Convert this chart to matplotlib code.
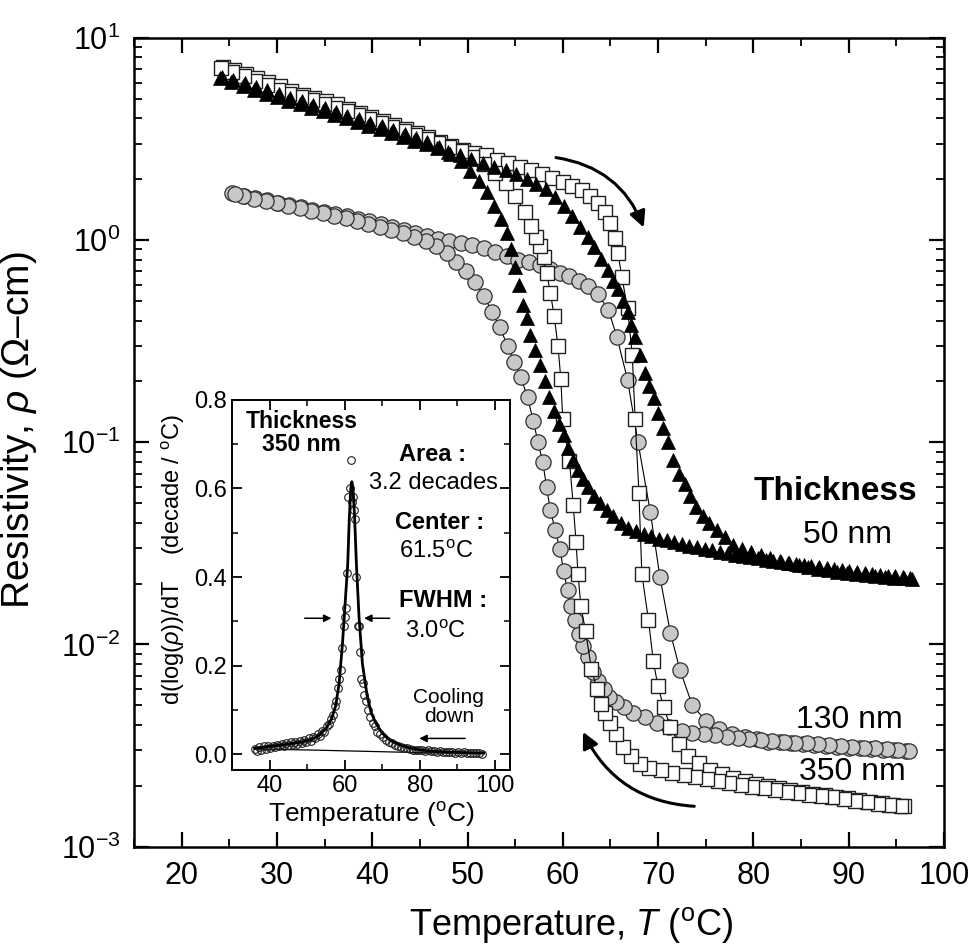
import matplotlib
matplotlib.use("Agg")
import matplotlib.pyplot as plt
from matplotlib.patches import FancyArrowPatch
from matplotlib.ticker import LogLocator, MultipleLocator

plt.rcParams['font.family'] = ['Liberation Sans', 'DejaVu Sans']
plt.rcParams['mathtext.fontset'] = 'custom'
plt.rcParams['mathtext.rm'] = 'Liberation Sans'
plt.rcParams['mathtext.it'] = 'Liberation Sans:italic'
plt.rcParams['mathtext.bf'] = 'Liberation Sans:bold'
plt.rcParams['mathtext.default'] = 'regular'

# ---- 350 nm (open squares) ----
sq_heat_T = [24.3, 25.5, 26.7, 27.9, 29.1, 30.3, 31.5, 32.7, 33.9, 35.1, 36.3, 37.5, 38.7, 39.9,
             41.1, 42.3, 43.5, 44.7, 45.9, 47.1, 48.3, 49.5, 50.7, 51.9, 53.1, 54.3, 55.5, 56.7,
             57.8, 58.9, 60.0, 61.0, 62.0, 62.9, 63.7, 64.4, 65.0, 65.5, 65.8, 66.2, 66.8, 67.3,
             67.6, 68.0, 68.3, 69.0, 69.5, 70.0, 70.6, 71.3, 72.2, 73.2, 74.3, 75.5, 76.7, 77.9,
             79.1, 80.3, 81.5, 82.7, 83.9, 85.1, 86.3, 87.5, 88.7, 89.9, 91.1, 92.3, 93.5, 94.7, 95.8]
sq_heat_rho = [7.2, 6.9, 6.6, 6.3, 6.05, 5.75, 5.45, 5.2, 5.05, 4.9, 4.7, 4.45, 4.25, 4.05,
               3.9, 3.7, 3.55, 3.38, 3.22, 3.06, 2.93, 2.8, 2.7, 2.62, 2.5, 2.4, 2.31, 2.22,
               2.12, 2.02, 1.93, 1.85, 1.76, 1.65, 1.52, 1.37, 1.21, 1.02, 0.86, 0.66, 0.46, 0.27,
               0.13, 0.056, 0.0224, 0.0132, 0.0083, 0.0062, 0.0049, 0.0039, 0.0032, 0.0028, 0.0026,
               0.0024, 0.00228, 0.00218, 0.0021, 0.00204, 0.00199, 0.00195, 0.00191, 0.00187,
               0.00183, 0.00179, 0.00176, 0.00173, 0.0017, 0.00167, 0.00164, 0.00161, 0.00159]
sq_cool_T = [95.5, 94.3, 93.1, 91.9, 90.7, 89.5, 88.3, 87.1, 85.9, 84.7, 83.5, 82.3, 81.1, 79.9,
             78.7, 77.5, 76.3, 75.1, 73.9, 72.7, 71.5, 70.3, 69.1, 68.1, 67.2, 66.3, 65.6, 65.0,
             64.4, 64.0, 63.6, 63.0, 62.4, 61.9, 61.6, 61.4, 61.1, 60.7, 60.0, 59.8, 59.5, 59.1,
             58.7, 58.3, 58.0, 57.6, 57.2, 56.7, 56.0, 55.0, 54.0, 52.9, 51.7, 50.5, 49.3, 48.1,
             46.9, 45.7, 44.5, 43.3, 42.1, 40.9, 39.7, 38.5, 37.3, 36.1, 34.9, 33.7, 32.5, 31.3,
             30.1, 28.9, 27.7, 26.5, 25.3, 24.1]
sq_cool_rho = [0.00158, 0.0016, 0.00163, 0.00166, 0.00169, 0.00172, 0.00175, 0.00178, 0.00181,
               0.00184, 0.00187, 0.0019, 0.00194, 0.00198, 0.00202, 0.00206, 0.0021, 0.00215,
               0.0022, 0.00226, 0.00232, 0.00238, 0.00245, 0.00255, 0.0028, 0.0031, 0.0036, 0.0041,
               0.0046, 0.0051, 0.006, 0.0076, 0.0116, 0.0155, 0.0224, 0.032, 0.049, 0.081, 0.13,
               0.205, 0.30, 0.42, 0.55, 0.69, 0.82, 0.93, 1.04, 1.18, 1.38, 1.66, 1.92, 2.15, 2.38,
               2.58, 2.75, 2.9, 3.03, 3.17, 3.32, 3.48, 3.64, 3.8, 3.97, 4.15, 4.33, 4.52, 4.72,
               4.93, 5.1, 5.3, 5.55, 5.85, 6.15, 6.45, 6.8, 7.1]

# ---- 50 nm (filled triangles) ----
tri_heat_T = [24.0, 25.2, 26.4, 27.6, 28.8, 30.0, 31.2, 32.4, 33.6, 34.8, 36.0, 37.2, 38.4, 39.6,
              40.8, 42.0, 43.2, 44.4, 45.6, 46.8, 48.0, 49.2, 50.4, 51.6, 52.8, 54.0, 55.1, 56.2,
              57.2, 58.2, 59.2, 60.1, 61.0, 61.8, 62.6, 63.3, 64.0, 64.7, 65.3, 65.8, 66.3, 66.8,
              67.2, 67.6, 68.1, 68.6, 69.1, 69.6, 70.0, 70.5, 71.0, 71.6, 72.2, 72.8, 73.4, 74.0,
              74.7, 75.4, 76.2, 77.0, 77.9, 78.8, 79.8, 80.8, 81.8, 82.8, 83.8, 84.8, 85.8, 86.8,
              87.8, 88.8, 89.8, 90.8, 91.8, 92.8, 93.8, 94.8, 95.8, 96.7]
tri_heat_rho = [6.3, 6.05, 5.8, 5.55, 5.3, 5.1, 4.9, 4.7, 4.5, 4.33, 4.16, 4.0, 3.84, 3.68,
                3.53, 3.38, 3.24, 3.1, 2.97, 2.85, 2.73, 2.62, 2.51, 2.41, 2.31, 2.21, 2.11, 2.0,
                1.9, 1.78, 1.64, 1.48, 1.32, 1.16, 1.03, 0.92, 0.81, 0.71, 0.63, 0.57, 0.50, 0.44,
                0.38, 0.33, 0.27, 0.22, 0.19, 0.165, 0.14, 0.118, 0.1, 0.082, 0.07, 0.062, 0.054,
                0.048, 0.043, 0.04, 0.037, 0.034, 0.031, 0.0295, 0.0285, 0.0276, 0.0268, 0.026,
                0.0253, 0.0247, 0.0242, 0.0237, 0.0233, 0.0229, 0.0226, 0.0223, 0.022, 0.0218,
                0.0216, 0.0214, 0.0212, 0.021]
tri_cool_T = [96.5, 95.7, 94.9, 94.1, 93.3, 92.5, 91.7, 90.9, 90.1, 89.3, 88.5, 87.7, 86.9, 86.1,
              85.3, 84.5, 83.7, 82.9, 82.1, 81.3, 80.5, 79.7, 78.9, 78.1, 77.3, 76.5, 75.7, 74.9,
              74.1, 73.3, 72.5, 71.7, 70.9, 70.1, 69.3, 68.5, 67.7, 66.9, 66.1, 65.3, 64.6, 63.9,
              63.3, 62.7, 62.1, 61.6, 61.1, 60.6, 60.1, 59.6, 59.1, 58.6, 58.1, 57.6, 57.1, 56.6,
              56.2, 55.8, 55.4, 55.0, 54.6, 54.1, 53.5, 52.8, 52.0, 51.2, 50.3, 49.3, 48.2, 47.0,
              45.8, 44.6, 43.4, 42.2, 41.0, 39.8, 38.6, 37.4, 36.2, 35.0, 33.8, 32.6, 31.4, 30.2,
              29.0, 27.8, 26.6, 25.4, 24.2]
tri_cool_rho = [0.0213, 0.0215, 0.0217, 0.0219, 0.0221, 0.0223, 0.0225, 0.0228, 0.023, 0.0233,
                0.0236, 0.0239, 0.0242, 0.0245, 0.0248, 0.0251, 0.0254, 0.0257, 0.026, 0.0263,
                0.0267, 0.027, 0.0274, 0.0278, 0.0282, 0.0287, 0.0292, 0.0297, 0.0302, 0.0308,
                0.0314, 0.032, 0.0327, 0.0334, 0.0342, 0.035, 0.0362, 0.0378, 0.04, 0.043, 0.046,
                0.05, 0.054, 0.06, 0.066, 0.073, 0.082, 0.094, 0.108, 0.123, 0.142, 0.168, 0.2,
                0.24, 0.285, 0.34, 0.41, 0.48, 0.6, 0.74, 0.9, 1.08, 1.27, 1.48, 1.72, 1.95, 2.2,
                2.45, 2.68, 2.88, 3.05, 3.2, 3.35, 3.5, 3.65, 3.8, 3.96, 4.12, 4.3, 4.48, 4.67,
                4.87, 5.07, 5.28, 5.5, 5.72, 5.95, 6.18, 6.4]

# ---- 130 nm (grey circles) ----
ci_heat_T = [25.3, 26.5, 27.7, 28.9, 30.1, 31.3, 32.5, 33.7, 34.9, 36.1, 37.3, 38.5, 39.7, 40.9,
             42.1, 43.3, 44.5, 45.7, 46.9, 48.1, 49.3, 50.5, 51.7, 52.9, 54.1, 55.3, 56.5, 57.6,
             58.7, 59.7, 60.7, 61.7, 62.7, 63.7, 64.8, 65.7, 66.8, 67.9, 69.2, 70.2, 71.3, 72.3,
             73.6, 75.0, 76.4, 77.8, 79.1, 80.4, 81.6, 82.8, 84.0, 85.2, 86.4, 87.6, 88.8, 90.0,
             91.2, 92.4, 93.6, 94.8, 96.0]
ci_heat_rho = [1.71, 1.66, 1.61, 1.57, 1.53, 1.49, 1.45, 1.41, 1.38, 1.34, 1.31, 1.27, 1.24, 1.2,
               1.16, 1.12, 1.08, 1.05, 1.01, 0.99, 0.97, 0.94, 0.91, 0.87, 0.83, 0.8, 0.78, 0.75,
               0.72, 0.69, 0.665, 0.63, 0.59, 0.54, 0.45, 0.33, 0.204, 0.1, 0.045, 0.0216, 0.0114,
               0.0075, 0.005, 0.0042, 0.0038, 0.0036, 0.0035, 0.0034, 0.0033, 0.00328, 0.00324,
               0.0032, 0.00317, 0.00314, 0.00311, 0.00308, 0.00306, 0.00304, 0.00302, 0.003, 0.00298]
ci_cool_T = [96.4, 95.2, 94.0, 92.8, 91.6, 90.4, 89.2, 88.0, 86.8, 85.6, 84.4, 83.2, 82.0, 80.8,
             79.6, 78.4, 77.2, 76.0, 74.8, 73.6, 72.5, 71.2, 69.9, 68.6, 67.4, 66.4, 65.6, 64.9,
             64.3, 63.7, 63.2, 62.6, 62.1, 61.7, 61.3, 60.9, 60.5, 60.1, 59.7, 59.2, 58.7, 58.3,
             57.9, 57.4, 56.9, 56.3, 55.6, 54.9, 54.2, 53.4, 52.6, 51.7, 50.8, 49.8, 48.8, 47.8,
             46.7, 45.6, 44.4, 43.2, 42.0, 40.8, 39.6, 38.4, 37.2, 36.0, 34.8, 33.6, 32.4, 31.2,
             30.0, 28.8, 27.6, 26.4, 25.6]
ci_cool_rho = [0.00296, 0.003, 0.00303, 0.00306, 0.00309, 0.00312, 0.00315, 0.00318, 0.00321,
               0.00324, 0.00327, 0.0033, 0.00334, 0.00338, 0.00342, 0.00346, 0.0035, 0.00355,
               0.0036, 0.00366, 0.00373, 0.0039, 0.0041, 0.0044, 0.0046, 0.0049, 0.0052, 0.0055,
               0.006, 0.0066, 0.0073, 0.0087, 0.0098, 0.0112, 0.0132, 0.0155, 0.0185, 0.023,
               0.0295, 0.037, 0.046, 0.06, 0.08, 0.1, 0.128, 0.167, 0.21, 0.25, 0.3, 0.37, 0.44,
               0.53, 0.62, 0.7, 0.78, 0.86, 0.93, 0.99, 1.03, 1.08, 1.12, 1.16, 1.2, 1.24, 1.28,
               1.32, 1.36, 1.4, 1.44, 1.48, 1.52, 1.56, 1.6, 1.65, 1.69]

# ---- inset: derivative of log(rho), 350 nm, cooling ----
ins_T = [36.0, 36.6, 37.2, 37.8, 38.4, 39.0, 39.6, 40.2, 40.8, 41.4, 42.0, 42.6, 43.2, 43.8,
         44.4, 45.0, 45.6, 46.2, 46.8, 47.4, 48.0, 48.6, 49.2, 49.8, 50.4, 51.0, 51.6, 52.2,
         52.8, 53.4, 54.0, 54.6, 55.2, 55.8, 56.3, 56.8, 57.3, 57.8, 58.2, 58.6, 59.0, 59.4,
         59.8, 60.1, 60.4, 60.7, 61.0, 61.3, 61.6, 61.9, 62.2, 62.5, 62.8, 63.1, 63.4, 63.7,
         64.0, 64.4, 64.8, 65.2, 65.7, 66.2, 66.8, 67.4, 68.0, 68.7, 69.4, 70.1, 70.9, 71.7,
         72.5, 73.3, 74.1, 74.9, 75.7, 76.5, 77.3, 78.1, 78.9, 79.7, 80.5, 81.3, 82.1, 82.9,
         83.7, 84.5, 85.3, 86.1, 86.9, 87.7, 88.5, 89.3, 90.1, 90.9, 91.7, 92.5, 93.3, 94.1,
         94.9, 95.7, 96.5]
ins_val = [0.012, 0.008, 0.016, 0.010, 0.018, 0.012, 0.020, 0.014, 0.019, 0.016, 0.022, 0.018,
           0.024, 0.019, 0.025, 0.021, 0.027, 0.023, 0.029, 0.024, 0.030, 0.026, 0.033, 0.029,
           0.036, 0.031, 0.040, 0.036, 0.045, 0.042, 0.052, 0.050, 0.063, 0.068, 0.080, 0.088,
           0.11, 0.12, 0.15, 0.17, 0.19, 0.24, 0.29, 0.31, 0.33, 0.41, 0.58, 0.60, 0.664, 0.57,
           0.58, 0.55, 0.53, 0.40, 0.29, 0.29, 0.23, 0.17, 0.16, 0.135, 0.12, 0.10, 0.085, 0.07,
           0.065, 0.05, 0.045, 0.04, 0.032, 0.028, 0.025, 0.022, 0.020, 0.017, 0.015, 0.014,
           0.013, 0.011, 0.010, 0.009, 0.010, 0.008, 0.009, 0.007, 0.008, 0.006, 0.007, 0.006,
           0.005, 0.006, 0.005, 0.004, 0.005, 0.004, 0.005, 0.004, 0.003, 0.004, 0.003, 0.003, 0.002]
fit_T = [36, 40, 44, 48, 51, 53, 55, 56.5, 57.6, 58.5, 59.4, 60.1, 60.8, 61.2, 61.6, 61.9, 62.2,
         62.6, 63.1, 63.8, 64.7, 66.0, 67.0, 68.3, 70.0, 72.0, 75.0, 78.0, 82.0, 86.0, 90.0, 94.0, 97.0]
fit_val = [0.014, 0.018, 0.022, 0.027, 0.033, 0.042, 0.058, 0.08, 0.11, 0.16, 0.25, 0.34, 0.43,
           0.53, 0.6, 0.615, 0.6, 0.54, 0.43, 0.31, 0.205, 0.13, 0.095, 0.07, 0.048, 0.032, 0.02,
           0.013, 0.008, 0.006, 0.0045, 0.0035, 0.003]
base_T = [36, 50, 65, 80, 97]
base_val = [0.012, 0.010, 0.007, 0.004, 0.002]

fig = plt.figure(figsize=(9.79, 9.47), dpi=100)
ax = fig.add_axes([0.137, 0.106, 0.827, 0.854])

line_kw = dict(color='black', lw=0.8)
# 130 nm
ax.plot(ci_heat_T, ci_heat_rho, marker='o', ms=11, mfc='#c8c8c8', mec='#303030', mew=0.9, **line_kw)
ax.plot(ci_cool_T, ci_cool_rho, marker='o', ms=11, mfc='#c8c8c8', mec='#303030', mew=0.9, **line_kw)
# 350 nm
ax.plot(sq_heat_T, sq_heat_rho, marker='s', ms=10.5, mfc='white', mec='#202020', mew=1.0, **line_kw)
ax.plot(sq_cool_T, sq_cool_rho, marker='s', ms=10.5, mfc='white', mec='#202020', mew=1.0, **line_kw)
# 50 nm
ax.plot(tri_heat_T, tri_heat_rho, marker='^', ms=10.5, mfc='black', mec='black', mew=0.5, ls='none')
ax.plot(tri_cool_T, tri_cool_rho, marker='^', ms=10.5, mfc='black', mec='black', mew=0.5, ls='none')

ax.set_yscale('log')
ax.set_xlim(15, 100)
ax.set_ylim(1e-3, 1e1)
ax.xaxis.set_major_locator(MultipleLocator(10))
ax.xaxis.set_minor_locator(MultipleLocator(5))
ax.yaxis.set_major_locator(LogLocator(base=10, numticks=10))
ax.yaxis.set_minor_locator(LogLocator(base=10, subs=range(2, 10), numticks=20))
ax.tick_params(which='both', direction='in', top=True, right=True, labelsize=22)
ax.tick_params(which='major', length=11, width=1.6, pad=10)
ax.tick_params(which='minor', length=6, width=1.3)
for s in ax.spines.values():
    s.set_linewidth(1.8)

ax.set_xlabel(r'Temperature, $\mathit{T}$ ($^{\mathrm{o}}$C)', fontsize=26)
ax.xaxis.set_label_coords(0.54, -0.097)
ax.xaxis.label.set_va('center')
ax.set_ylabel(r'Resistivity, $\mathit{\rho}$ ($\Omega$–cm)', fontsize=28)
ax.yaxis.set_label_coords(-0.118, 0.515)

ax.text(88.6, 0.0569, 'Thickness', fontsize=24, fontweight='bold', ha='center', va='center')
ax.text(89.9, 0.0349, '50 nm', fontsize=23, ha='center', va='center')
ax.text(90.1, 0.00425, '130 nm', fontsize=23, ha='center', va='center')
ax.text(90.4, 0.00235, '350 nm', fontsize=23, ha='center', va='center')

arr_kw = dict(arrowstyle='-|>', mutation_scale=24, lw=2.2, color='black',
              connectionstyle='arc3,rad=-0.3')
ax.add_patch(FancyArrowPatch((59.0, 2.57), (68.6, 1.12), **arr_kw))
ax.add_patch(FancyArrowPatch((74.1, 0.00158), (62.0, 0.0038), **arr_kw))

# ---- inset ----
axi = fig.add_axes([0.237, 0.187, 0.284, 0.391])
axi.plot(base_T, base_val, color='black', lw=0.9)
axi.plot(ins_T, ins_val, ls='none', marker='o', ms=5.5, mfc='none', mec='#202020', mew=0.8)
axi.plot(fit_T, fit_val, color='black', lw=2.0)
axi.set_xlim(30, 104)
axi.set_ylim(-0.035, 0.8)
axi.xaxis.set_major_locator(MultipleLocator(20))
axi.xaxis.set_minor_locator(MultipleLocator(10))
axi.yaxis.set_major_locator(MultipleLocator(0.2))
axi.yaxis.set_minor_locator(MultipleLocator(0.1))
axi.tick_params(which='both', direction='in', top=True, right=True, labelsize=17)
axi.tick_params(which='major', length=7, width=1.3)
axi.tick_params(which='minor', length=4, width=1.1)
for s in axi.spines.values():
    s.set_linewidth(1.4)
axi.set_xlabel(r'Temperature ($^{\mathrm{o}}$C)', fontsize=19, labelpad=2)
axi.set_ylabel(r'd(log($\mathit{\rho}$))/dT    (decade / $^{\mathrm{o}}$C)', fontsize=17)
axi.yaxis.set_label_coords(-0.212, 0.568)
axi.yaxis.label.set_va('center')

axi.text(48.5, 0.725, 'Thickness\n350 nm', fontsize=16.5, fontweight='bold', ha='center',
         va='center', linespacing=1.0)
axi.text(83.4, 0.676, 'Area :', fontsize=17, fontweight='bold', ha='center', va='center')
axi.text(83.7, 0.612, '3.2 decades', fontsize=17, ha='center', va='center')
axi.text(85.3, 0.524, 'Center :', fontsize=17, fontweight='bold', ha='center', va='center')
axi.text(84.2, 0.456, r'61.5$^{\mathrm{o}}$C', fontsize=17, ha='center', va='center')
axi.text(86.1, 0.348, 'FWHM :', fontsize=17, fontweight='bold', ha='center', va='center')
axi.text(84.2, 0.276, r'3.0$^{\mathrm{o}}$C', fontsize=17, ha='center', va='center')
axi.text(87.7, 0.107, 'Cooling\ndown', fontsize=15, ha='center', va='center', linespacing=1.0)

small_kw = dict(arrowstyle='-|>', mutation_scale=11, lw=1.1, color='black')
axi.add_patch(FancyArrowPatch((48.6, 0.307), (57.2, 0.307), **small_kw))
axi.add_patch(FancyArrowPatch((72.7, 0.307), (64.4, 0.307), **small_kw))
axi.add_patch(FancyArrowPatch((92.8, 0.036), (79.1, 0.036), **small_kw))

fig.savefig('out.png', dpi=100)
